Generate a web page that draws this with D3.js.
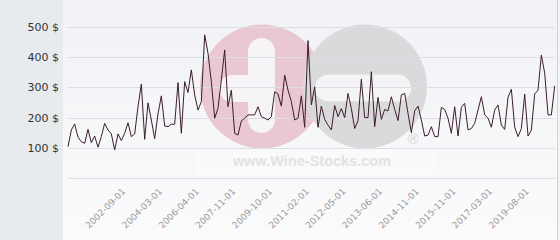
<!DOCTYPE html>
<html><head><meta charset="utf-8">
<script src="https://cdn.jsdelivr.net/npm/d3@7"></script>
<style>
html,body{margin:0;padding:0;background:#fff;}
svg{display:block;font-family:"DejaVu Sans",Verdana,sans-serif;}
</style></head>
<body>
<svg id="chart" width="560" height="240"></svg>
<script>
// ---- data ----
const values = [104,159,179,135,120,115,161,117,139,102,
137,181,159,146,93,146,124,148,183,137,
146,236,311,128,249,192,130,212,272,172,
170,178,178,316,148,319,283,358,275,225,
253,474,413,319,198,231,325,424,236,291,
148,142,189,198,209,209,209,236,203,198,
192,203,286,278,238,341,291,253,192,198,
272,168,455,242,302,168,238,194,175,159,
240,203,230,200,280,230,164,190,327,200,
200,352,170,267,194,227,222,269,227,190,
275,280,214,150,223,238,192,139,142,170,
137,137,234,227,198,148,236,139,234,247,
159,164,181,225,269,209,198,168,225,242,
175,161,267,294,168,137,164,278,139,159,
278,291,407,347,209,209,305];
const tickLabels = ["2002-09-01","2004-03-01","2006-04-01","2007-11-01","2009-10-01","2011-02-01",
"2012-05-01","2013-06-01","2014-11-01","2015-11-01","2017-03-01","2019-08-01"];
const tickIndex = [17,28,39,50,61,72,83,94,105,116,127,138];
const yTicks = [100,200,300,400,500];

// ---- layout ----
const W = 560, H = 240;
const plotL = 63, plotR = 557;
const svg = d3.select("#chart");

const defs = svg.append("defs");
const grad = defs.append("linearGradient").attr("id","bg").attr("x1",0).attr("y1",0).attr("x2",0).attr("y2",1);
grad.append("stop").attr("offset","0%").attr("stop-color","#f1f2f6");
grad.append("stop").attr("offset","100%").attr("stop-color","#fbfbfc");

svg.append("rect").attr("x",0).attr("y",0).attr("width",plotL).attr("height",H).attr("fill","#e7ebee");
svg.append("rect").attr("x",plotL).attr("y",0).attr("width",plotR-plotL).attr("height",H).attr("fill","url(#bg)");
svg.append("line").attr("x1",plotR+0.5).attr("x2",plotR+0.5).attr("y1",0).attr("y2",H).attr("stroke","#cfd2d6");
svg.append("rect").attr("x",plotR+1).attr("y",0).attr("width",W-plotR-1).attr("height",H).attr("fill","#f3f4f6");

const x = d3.scalePoint().domain(d3.range(values.length)).range([68, 554.7]);
const y = d3.scaleLinear().domain([0,500]).range([178, 27]);

// ---- watermark ----
const wm = svg.append("g");
wm.append("circle").attr("cx",262).attr("cy",86.5).attr("r",62).attr("fill","#e9c8d1");
wm.append("rect").attr("x",248).attr("y",38).attr("width",27).attr("height",95).attr("rx",13.5).attr("fill","#f7f4f7");
wm.append("rect").attr("x",219).attr("y",75).attr("width",50).attr("height",27).attr("rx",13.5).attr("fill","#f7f4f7");
wm.append("circle").attr("cx",365).attr("cy",86.5).attr("r",62).attr("fill","#dadadc");
wm.append("rect").attr("x",315).attr("y",74.5).attr("width",96).attr("height",27).attr("rx",13.5).attr("fill","#f4f4f6");
wm.append("rect").attr("x",195).attr("y",149).attr("width",240).attr("height",26).attr("fill","#ffffff").attr("opacity",0.3);
wm.append("text").attr("x",312).attr("y",166).attr("text-anchor","middle")
  .attr("font-family","Liberation Sans, Arial, sans-serif").attr("font-weight","bold").attr("font-size",14.5)
  .attr("fill","#e2e2e4").text("www.Wine-Stocks.com");
wm.append("text").attr("x",413).attr("y",144).attr("text-anchor","middle")
  .attr("font-family","Liberation Sans, Arial, sans-serif").attr("font-size",15)
  .attr("fill","#d6d6d8").text("®");

// ---- grid ----
svg.append("g").selectAll("line").data([0].concat(yTicks)).join("line")
  .attr("x1",68).attr("x2",555)
  .attr("y1",d=>Math.round(y(d))+0.5).attr("y2",d=>Math.round(y(d))+0.5)
  .attr("stroke","#dddee2").attr("stroke-width",1);

// ---- y axis labels ----
const yAxis = d3.axisLeft(y).tickValues(yTicks).tickSize(0).tickPadding(0).tickFormat(d=>d+" $");
const gy = svg.append("g").attr("transform","translate(59,0)").call(yAxis);
gy.select(".domain").remove();
gy.selectAll("text").attr("font-size",11).attr("fill","#333").attr("font-family","DejaVu Sans, sans-serif");

// ---- x axis ----
const xAxis = d3.axisBottom(x).tickValues(tickIndex).tickSize(0).tickPadding(0)
  .tickFormat((d,i)=>tickLabels[i]);
const gx = svg.append("g").attr("transform","translate(0,178)").call(xAxis);
gx.select(".domain").remove();
gx.selectAll("text")
  .attr("font-size",9).attr("fill","#9a9a9a").attr("font-family","DejaVu Sans, sans-serif")
  .attr("text-anchor","end").attr("dy",0)
  .attr("transform","translate(1,14) rotate(-45)");

// ---- line ----
const line = d3.line().x((d,i)=>x(i)).y(d=>y(d));
svg.append("path").datum(values).attr("d",line)
  .attr("fill","none").attr("stroke","#3b1e2b").attr("stroke-width",1).attr("stroke-linejoin","miter");
</script>
</body></html>
